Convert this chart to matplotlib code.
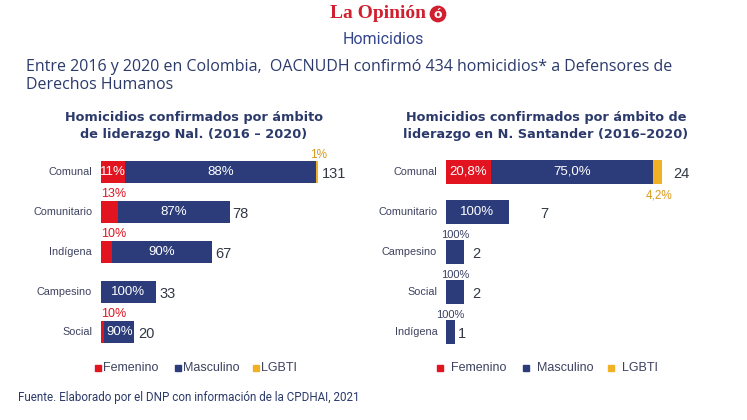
import matplotlib.pyplot as plt
from matplotlib.patches import Rectangle

# datos: ámbito nacional
cats_nal = ["Comunal", "Comunitario", "Indígena", "Campesino", "Social"]
tot_nal = [131, 78, 67, 33, 20]
fem_nal = [11, 13, 10, 0, 10]
masc_nal = [88, 87, 90, 100, 90]
lgbti_nal = [1, 0, 0, 0, 0]

# datos: Norte de Santander
cats_ns = ["Comunal", "Comunitario", "Campesino", "Social", "Indígena"]
tot_ns = [24, 7, 2, 2, 1]
fem_ns = [20.8, 0, 0, 0, 0]
masc_ns = [75.0, 100, 100, 100, 100]
lgbti_ns = [4.2, 0, 0, 0, 0]

RED = "#e1141f"
NAVY = "#2c3c7b"
GOLD = "#f0b224"
TXT = "#2b3a6b"
GRAY = "#3d4260"

W, H = 747, 420
fig = plt.figure(figsize=(W / 100, H / 100), dpi=100)


def fx(px):
    return px / W


def fy(py):
    return 1 - py / H


def pct(v, comma):
    if comma and v != 100:
        return f"{v:.1f}%".replace(".", ",")
    return f"{v:.0f}%"


def draw(ax, cats, tot, fem, masc, lgbti, xmax, height, comma, m_min, f_min, num_off):
    ax.set_xlim(0, xmax)
    ax.set_ylim(4.5, -0.5)
    ax.axis("off")
    for i, c in enumerate(cats):
        f = tot[i] * fem[i] / 100
        m = tot[i] * masc[i] / 100
        g = tot[i] * lgbti[i] / 100
        ax.barh(i, f, left=0, height=height, color=RED)
        ax.barh(i, m, left=f, height=height, color=NAVY)
        ax.barh(i, g, left=f + m, height=height, color=GOLD)
        ax.text(-xmax * 0.035, i, c, ha="right", va="center", fontsize=7.8,
                color=GRAY, family="Liberation Sans")
        ax.text(tot[i] + num_off[i], i + 0.05, str(tot[i]), ha="left", va="center",
                fontsize=10.5, color="#333846", family="Liberation Sans")
        # etiquetas masculino
        if m >= m_min:
            ax.text(f + m / 2, i, pct(masc[i], comma), ha="center", va="center",
                    fontsize=9.5, color="white", family="Liberation Sans")
        else:
            ax.text(tot[i] / 2, i - 0.42, pct(masc[i], comma), ha="center", va="center",
                    fontsize=8, color="#3b4163", family="Liberation Sans")
        # etiquetas femenino
        if fem[i] > 0:
            if f >= f_min:
                ax.text(f / 2, i, pct(fem[i], comma), ha="center", va="center",
                        fontsize=9.5, color="white", family="Liberation Sans")
            else:
                ax.text(0, i - 0.44, pct(fem[i], comma), ha="left", va="center",
                        fontsize=9, color=RED, family="Liberation Sans")
        # etiquetas LGBTI
        if lgbti[i] > 0:
            dy = 0.58 if comma else -0.42
            ax.text(tot[i] - (0.3 if comma else 0), i + dy, pct(lgbti[i], comma),
                    ha="center", va="center", fontsize=8.5, color="#d99a1c",
                    family="Liberation Sans")


# panel nacional: 0 en x=101px, 1.657 px por unidad
ax1 = fig.add_axes([fx(101), fy(352), fx(250), 200 / H])
draw(ax1, cats_nal, tot_nal, fem_nal, masc_nal, lgbti_nal, 250 / 1.657, 0.53,
     False, 10, 12, [2.2, 1.2, 2.2, 2.2, 2.6])

# panel N. Santander: 0 en x=446px, 9 px por unidad
ax2 = fig.add_axes([fx(446), fy(352), fx(250), 200 / H])
draw(ax2, cats_ns, tot_ns, fem_ns, masc_ns, lgbti_ns, 250 / 9, 0.6,
     True, 5, 2, [1.2, 3.5, 0.9, 0.9, 0.35])

# encabezado
fig.text(fx(378), fy(14), "La Opinión", ha="center", va="center", fontsize=14,
         fontweight="bold", color="#d01f2f", family="Liberation Serif")
fig.text(fx(438), fy(14), "ó", ha="center", va="center", fontsize=9,
         fontweight="bold", color="white", family="DejaVu Sans",
         bbox=dict(boxstyle="circle,pad=0.15", fc="#d01f2f", ec="none"))
fig.text(fx(383), fy(40), "Homicidios", ha="center", va="center", fontsize=11.5,
         color="#34458a", family="Roboto")
fig.text(fx(26), fy(67), "Entre 2016 y 2020 en Colombia,  OACNUDH confirmó 434 homicidios* a Defensores de",
         ha="left", va="center", fontsize=11.5, color=TXT, family="Open Sans")
fig.text(fx(26), fy(85), "Derechos Humanos", ha="left", va="center", fontsize=11.5,
         color=TXT, family="Open Sans")

fig.text(fx(194), fy(126), "Homicidios confirmados por ámbito\nde liderazgo Nal. (2016 – 2020)",
         ha="center", va="center", fontsize=9.3, fontweight="bold", color=TXT,
         family="DejaVu Sans", linespacing=1.35)
fig.text(fx(546), fy(126), "Homicidios confirmados por ámbito de\nliderazgo en N. Santander (2016–2020)",
         ha="center", va="center", fontsize=9.3, fontweight="bold", color=TXT,
         family="DejaVu Sans", linespacing=1.35)

# leyendas
def legend(xs, gap):
    for x, lab, col in zip(xs, ["Femenino", "Masculino", "LGBTI"], [RED, NAVY, GOLD]):
        fig.patches.append(Rectangle((fx(x), fy(371)), fx(6), 6 / H, color=col,
                                     transform=fig.transFigure, figure=fig))
        fig.text(fx(x + 6 + gap), fy(368), lab, ha="left", va="center", fontsize=9,
                 color=GRAY, family="Liberation Sans")


legend([95, 175, 253], 2)
legend([437, 523, 608], 8)

fig.text(fx(18), fy(397), "Fuente. Elaborado por el DNP con información de la CPDHAI, 2021",
         ha="left", va="center", fontsize=8.4, color=TXT, family="Roboto")

fig.savefig("out.png", dpi=100, facecolor="white")
